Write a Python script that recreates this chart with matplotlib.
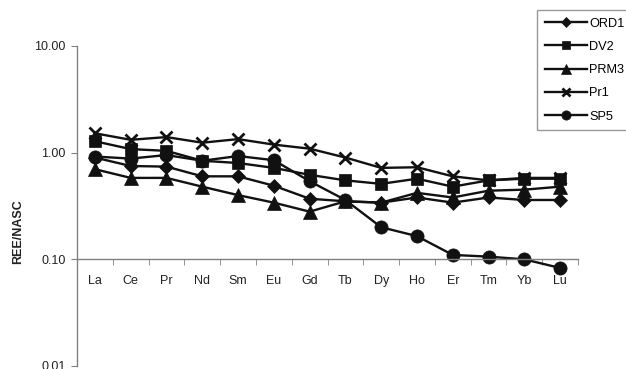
import numpy as np
from matplotlib import pyplot as plt

plt.rcParams['font.family'] = ['Liberation Sans', 'DejaVu Sans']

elements = ['La', 'Ce', 'Pr', 'Nd', 'Sm', 'Eu', 'Gd', 'Tb', 'Dy', 'Ho', 'Er', 'Tm', 'Yb', 'Lu']

ord1 = [0.90, 0.75, 0.74, 0.60, 0.60, 0.49, 0.37, 0.35, 0.34, 0.38, 0.34, 0.38, 0.36, 0.36]
dv2 = [1.28, 1.08, 1.04, 0.84, 0.80, 0.72, 0.62, 0.55, 0.51, 0.57, 0.48, 0.55, 0.57, 0.57]
prm3 = [0.70, 0.58, 0.58, 0.48, 0.40, 0.34, 0.28, 0.35, 0.34, 0.42, 0.38, 0.44, 0.45, 0.48]
pr1 = [1.52, 1.32, 1.40, 1.24, 1.34, 1.19, 1.09, 0.90, 0.72, 0.73, 0.60, 0.55, 0.58, 0.58]
sp5 = [0.92, 0.88, 0.95, 0.84, 0.93, 0.85, 0.54, 0.36, 0.20, 0.165, 0.11, 0.106, 0.10, 0.083]

series = [
    ('ORD1', ord1, 'D', 7.5),
    ('DV2', dv2, 's', 9),
    ('PRM3', prm3, '^', 9.5),
    ('Pr1', pr1, 'x', 8.5),
    ('SP5', sp5, 'o', 9.5),
]

fig = plt.figure(figsize=(6.26, 3.69), dpi=100)
ax = fig.add_axes([77 / 626, 3 / 369, 501 / 626, 320 / 369])

x = np.arange(len(elements))
lines = []
for name, vals, marker, ms in series:
    ln, = ax.plot(x, vals, color='#111111', linewidth=1.7, marker=marker,
                  markersize=ms, markeredgewidth=2.0 if marker == 'x' else 0.5,
                  markeredgecolor='#111111', markerfacecolor='#111111', label=name,
                  clip_on=False)
    lines.append(ln)

ax.set_yscale('log')
ax.set_ylim(0.01, 10)
ax.set_xlim(-0.5, len(elements) - 0.5)
ax.set_yticks([0.01, 0.1, 1, 10])
ax.set_yticklabels(['0.01', '0.10', '1.00', '10.00'])
ax.minorticks_off()

ax.set_xticks(x)
ax.set_xticklabels(elements)
ax.set_xticks(np.arange(-0.5, len(elements)), minor=True)
ax.tick_params(axis='x', which='major', length=0, pad=11, labelsize=9, colors='#222222')
ax.tick_params(axis='x', which='minor', length=4, direction='out', color='#808080')
ax.tick_params(axis='y', which='major', length=4, direction='out', color='#808080',
               labelsize=9, labelcolor='#222222', pad=4)

ax.spines['top'].set_visible(False)
ax.spines['right'].set_visible(False)
ax.spines['bottom'].set_position(('data', 0.1))
for sp in ['left', 'bottom']:
    ax.spines[sp].set_color('#808080')
    ax.spines[sp].set_linewidth(1.0)

ax.set_ylabel('REE/NASC', fontsize=9, fontweight='bold', color='#222222')
ax.yaxis.set_label_coords(-0.105, 0.42)

leg = fig.legend(handles=lines, loc='upper left', bbox_to_anchor=(537 / 626, 1 - 10 / 369),
                 fontsize=9.2, frameon=True, fancybox=False, handlelength=3.3,
                 handletextpad=0.2, labelspacing=0.88, borderpad=0.6, markerscale=0.7,
                 borderaxespad=0)
leg.get_frame().set_edgecolor('#808080')
leg.get_frame().set_linewidth(1.0)

fig.savefig('out.png', dpi=100)
